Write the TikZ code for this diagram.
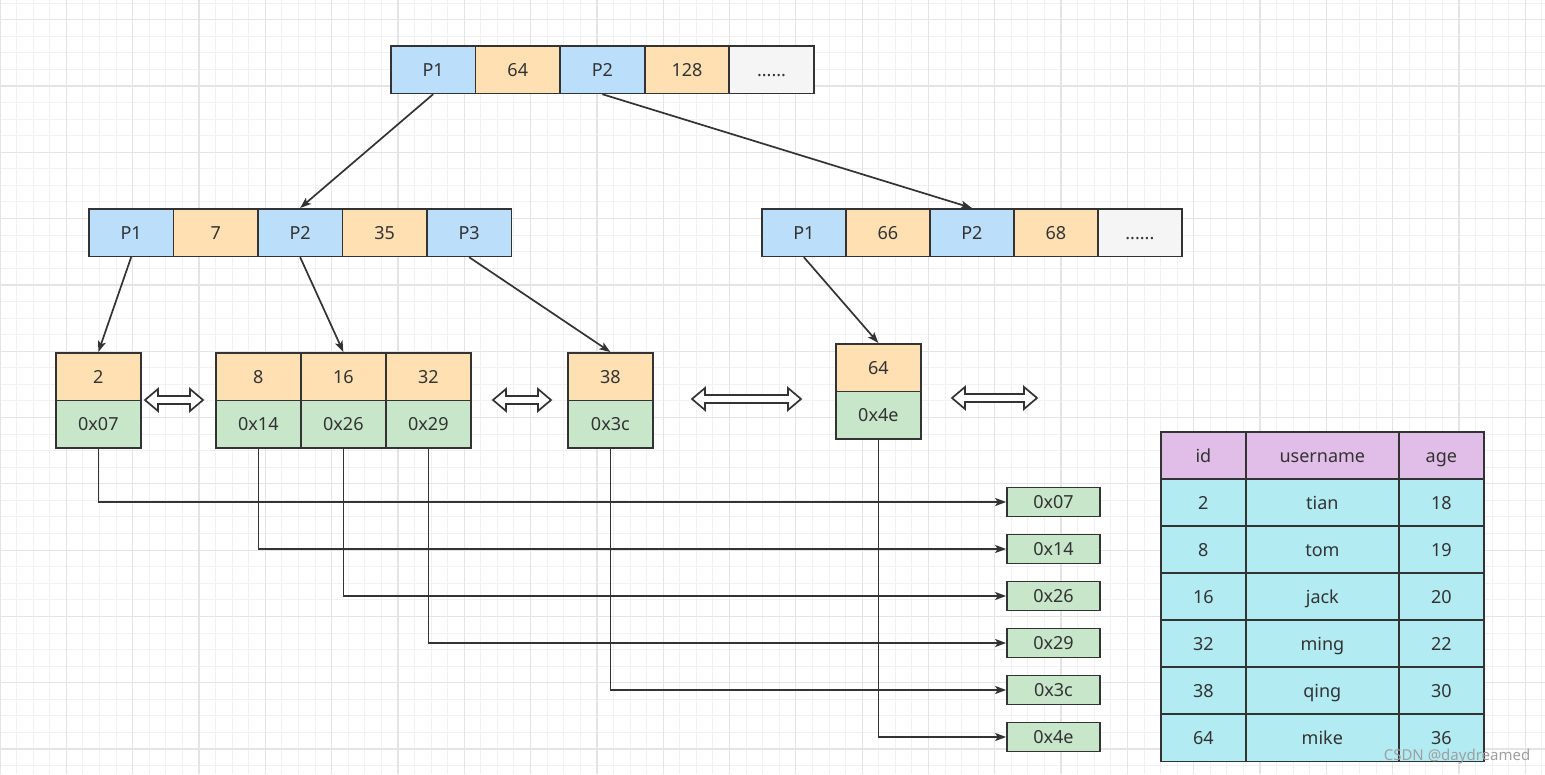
\documentclass[tikz,border=0pt]{standalone}
\usepackage{fontspec}
\setmainfont{Noto Sans}
\usetikzlibrary{arrows.meta}
\definecolor{ptrblue}{HTML}{BBDEFB}
\definecolor{keyorange}{HTML}{FFE0B2}
\definecolor{addrgreen}{HTML}{C8E6C9}
\definecolor{dotsgray}{HTML}{F5F5F5}
\definecolor{headpurple}{HTML}{E1BEE7}
\definecolor{rowcyan}{HTML}{B2EBF2}
\definecolor{ink}{HTML}{333333}
\definecolor{gridlo}{HTML}{F1F1F1}
\definecolor{gridhi}{HTML}{E4E4E4}
\newcommand{\moredots}{......}
\begin{document}
\begin{tikzpicture}[x=1pt, y=-1pt, line width=1.7pt,
  every node/.style={font=\fontsize{18}{21}\selectfont, text=ink},
  cell/.style={draw=ink, inner sep=0pt, minimum width=84.6pt, minimum height=47.5pt,
    text height=17pt, text depth=4pt, anchor=north west},
  rec/.style={draw=ink, fill=addrgreen, inner sep=0pt, minimum width=93pt, minimum height=29pt,
    text height=17pt, text depth=4pt},
  link/.style={draw=ink, line width=1.7pt, -{Stealth[length=11pt,width=8pt,inset=2.5pt]}},
  twoway/.style={draw=ink, fill=white, line width=1.7pt, line join=miter},
  gridminor/.style={draw=gridlo, line width=1pt},
  gridmajor/.style={draw=gridhi, line width=1.3pt}]

  \useasboundingbox (0,0) rectangle (1545,774);
  \fill[white] (0,0) rectangle (1545,774);
  \foreach \i in {0,...,93} \draw[gridminor] (\i*16.58,0) -- (\i*16.58,774);
  \foreach \j in {0,...,46} \draw[gridminor] (0,3+\j*16.58) -- (1545,3+\j*16.58);
  \foreach \i in {0,...,23} \draw[gridmajor] (\i*66.32,0) -- (\i*66.32,774);
  \foreach \j in {0,...,11} \draw[gridmajor] (0,19.6+\j*66.32) -- (1545,19.6+\j*66.32);

  \foreach \t/\c [count=\i] in {P1/ptrblue, 64/keyorange, P2/ptrblue, 128/keyorange, \moredots/dotsgray}
    \node[cell, fill=\c] (root\i) at (390+84.6*\i-84.6,45) {\t};
  \foreach \t/\c [count=\i] in {P1/ptrblue, 7/keyorange, P2/ptrblue, 35/keyorange, P3/ptrblue}
    \node[cell, fill=\c] (ml\i) at (88+84.5*\i-84.5,208) {\t};
  \foreach \t/\c [count=\i] in {P1/ptrblue, 66/keyorange, P2/ptrblue, 68/keyorange, \moredots/dotsgray}
    \node[cell, fill=\c, minimum width=84pt] (mr\i) at (761+84*\i-84,208) {\t};

  \foreach \k/\a/\x/\y in {2/07/55/352, 8/14/215/352, 16/26/300/352, 32/29/385/352, 38/3c/567/352, 64/4e/835/343}{
    \node[cell, fill=keyorange, minimum width=85pt] (k\k) at (\x,\y) {\k};
    \node[cell, fill=addrgreen, minimum width=85pt] (a\a) at (\x,\y+47.5) {0x\a};
  }

  \foreach \a/\y in {07/502, 14/549, 26/596, 29/643, 3c/690, 4e/737}
    \node[rec] (r\a) at (1053.5,\y) {0x\a};

  \draw[link] (root1.south) -- (ml3.north);
  \draw[link] (root3.south) -- (mr3.north);
  \draw[link] (ml1.south) -- (k2.north);
  \draw[link] (ml3.south) -- (k16.north);
  \draw[link] (ml5.south) -- (k38.north);
  \draw[link] (mr1.south) -- (k64.north);

  \foreach \a in {07,14,26,29,3c,4e} \draw[link] (a\a.south) |- (r\a.west);

  \foreach \cx/\cy/\len in {174/400/58, 522/400/58, 746.5/399/109, 994.5/398/85}
    \draw[twoway] (\cx-\len/2,\cy) -- ++(13,-11) -- ++(0,7) -- (\cx+\len/2-13,\cy-4) -- ++(0,-7)
      -- (\cx+\len/2,\cy) -- ++(-13,11) -- ++(0,-7) -- (\cx-\len/2+13,\cy+4) -- ++(0,7) -- cycle;

  \foreach \t/\w/\x [count=\i] in {id/85/1160, username/153/1245, age/85/1398}
    \node[cell, fill=headpurple, minimum width=\w pt] (head\i) at (\x,431) {\t};
  \foreach \a/\b/\c [count=\r] in {2/tian/18, 8/tom/19, 16/jack/20, 32/ming/22, 38/qing/30, 64/mike/36}{
    \node[cell, fill=rowcyan, minimum width=85pt] (id\r) at (1160,431+47*\r) {\a};
    \node[cell, fill=rowcyan, minimum width=153pt] (name\r) at (1245,431+47*\r) {\b};
    \node[cell, fill=rowcyan, minimum width=85pt] (age\r) at (1398,431+47*\r) {\c};
  }

  \node[font=\fontsize{15}{17}\selectfont, text=gray!75] (mark) at (1457,757) {CSDN @daydreamed};
\end{tikzpicture}
\end{document}
